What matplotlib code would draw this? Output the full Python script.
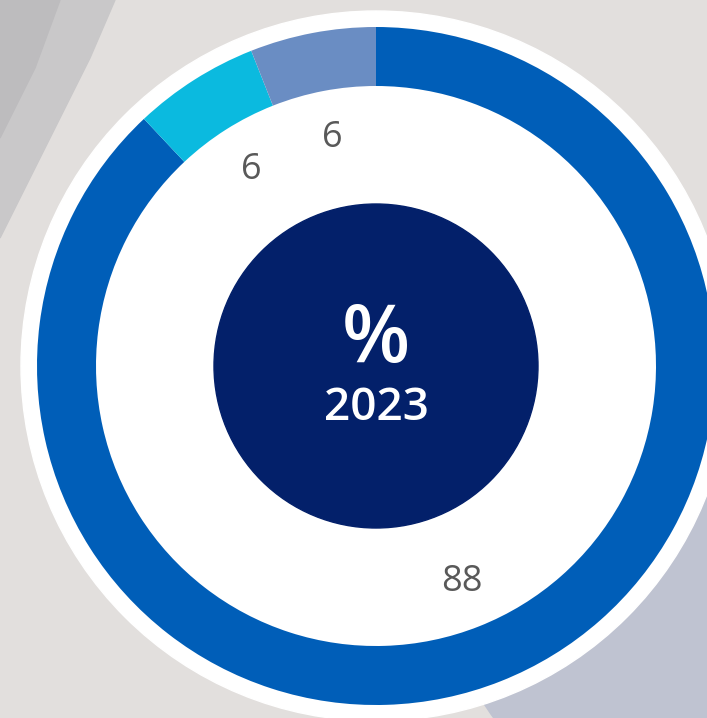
import matplotlib.pyplot as plt
from matplotlib.patches import Circle, Ellipse, Polygon

# datos
etiquetas = ["A", "B", "C"]
valores = [88, 6, 6]
colores = ["#005EB8", "#0BBADF", "#6A8DC3"]
titulo = "%"
anio = "2023"

plt.rcParams['font.family'] = ['Open Sans', 'DejaVu Sans']

fig = plt.figure(figsize=(7.07, 7.18), dpi=100)
ax = fig.add_axes([0, 0, 1, 1])
fig.patch.set_facecolor("#e2dfdd")
ax.set_facecolor("#e2dfdd")

# fondo tipo foto
ax.add_patch(Polygon([(0, 718), (115, 718), (90, 660), (55, 590), (20, 520), (0, 480)],
                     color="#c9c8c9", zorder=0))
ax.add_patch(Polygon([(0, 718), (60, 718), (35, 650), (0, 580)], color="#bdbcbe", zorder=0))
ax.add_patch(Ellipse((760, 40), 700, 420, angle=-30, color="#bfc3d1", zorder=0))

cx, cy = 376, 718 - 366
ax.add_patch(Circle((cx, cy), 355, color="white", zorder=1))

wedges, textos, pcts = ax.pie(valores, colors=colores, startangle=90, counterclock=False,
                              center=(cx, cy), radius=339, frame=True,
                              wedgeprops=dict(width=59, linewidth=0),
                              autopct=lambda p: f"{p:.0f}", pctdistance=0.685,
                              textprops=dict(color="#595959", fontsize=26))
for w in wedges:
    w.set_zorder(2)
for t in pcts:
    t.set_zorder(3)

ax.add_patch(Circle((cx, cy), 162, color="#03206A", zorder=3))
ax.text(cx, cy + 25, titulo, color="white", fontsize=57, fontweight="semibold",
        ha="center", va="center", zorder=4)
ax.text(cx, cy - 43, anio, color="white", fontsize=33, fontweight="semibold",
        ha="center", va="center", zorder=4)

ax.set_xlim(0, 707)
ax.set_ylim(0, 718)
ax.set_aspect("auto")
ax.axis("off")

plt.savefig("out.png", dpi=100)
